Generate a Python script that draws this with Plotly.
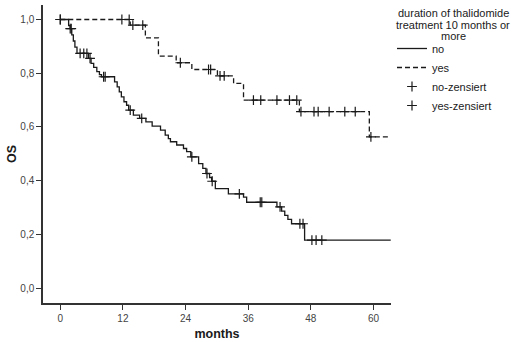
import numpy as np
import plotly.graph_objects as go

# ---- data ----
# group "no": event times (months) and survival after each event
no_t = [1.6, 1.9, 2.2, 2.5, 2.8, 3.2, 5.4, 5.9, 6.4, 7.0, 7.5, 7.9,
        10.4, 10.9, 11.3, 11.7, 12.2, 12.7, 13.1, 14.0, 15.2, 16.4, 17.6,
        19.2, 20.1, 20.7, 21.1, 22.3, 23.6, 24.2, 25.0, 26.5, 27.3, 27.9,
        28.6, 29.0, 29.7, 32.2, 35.1, 35.7, 41.5, 42.4, 43.0, 43.6, 44.3, 46.8]
no_s = [0.977, 0.966, 0.943, 0.920, 0.897, 0.874, 0.855, 0.837, 0.822, 0.806, 0.795, 0.787,
        0.768, 0.749, 0.731, 0.712, 0.694, 0.681, 0.663, 0.644, 0.632, 0.619, 0.603,
        0.588, 0.570, 0.557, 0.545, 0.533, 0.520, 0.508, 0.489, 0.464, 0.446, 0.427,
        0.412, 0.398, 0.371, 0.351, 0.339, 0.320, 0.303, 0.287, 0.271, 0.256, 0.240, 0.179]
no_cens = [0.0, 1.9, 2.1, 3.8, 4.5, 5.1, 5.7, 8.3, 8.6, 13.4, 15.6, 25.2, 28.1, 29.1,
           34.3, 38.3, 38.6, 42.1, 45.9, 46.5, 48.2, 49.0, 50.1]
no_end = 63.3

# group "yes"
yes_t = [13.4, 16.3, 18.8, 22.2, 25.2, 30.1, 33.2, 35.1, 45.8, 59.2]
yes_s = [0.979, 0.932, 0.864, 0.839, 0.814, 0.790, 0.762, 0.700, 0.657, 0.563]
yes_cens = [0.0, 11.8, 13.2, 13.9, 15.8, 23.0, 28.4, 28.8, 30.6, 31.4, 37.0, 38.4,
            41.5, 43.9, 45.3, 46.1, 48.6, 49.4, 51.5, 54.5, 56.5, 59.5]
yes_end = 63.3

x_ticks = [0, 12, 24, 36, 48, 60]
y_ticks = [0.0, 0.2, 0.4, 0.6, 0.8, 1.0]
legend_title_lines = ["duration of thalidomide", "treatment 10 months or", "more"]
names = ["no", "yes", "no-zensiert", "yes-zensiert"]


def step_xy(t, s, end):
    x = [0.0] + list(t) + [end]
    y = [1.0] + list(s) + [s[-1]]
    return x, y


def surv_at(t, s, c):
    t = np.asarray(t)
    s = np.asarray([1.0] + list(s))
    idx = np.searchsorted(t, np.asarray(c), side="right")
    return s[idx]


FONT = "Liberation Sans, Arial, sans-serif"
INK = "#1a1a1a"
W, H = 520, 342
ML, MR, MT, MB = 43, 129, 5, 39
PW, PH = W - ML - MR, H - MT - MB

fig = go.Figure()
nx, ny = step_xy(no_t, no_s, no_end)
yx, yy = step_xy(yes_t, yes_s, yes_end)

fig.add_trace(go.Scatter(x=nx, y=ny, mode="lines", line_shape="hv", name=names[0],
                         line=dict(color=INK, width=1.3)))
fig.add_trace(go.Scatter(x=yx, y=yy, mode="lines", line_shape="hv", name=names[1],
                         line=dict(color=INK, width=1.3, dash="5px,3px")))
fig.add_trace(go.Scatter(x=no_cens, y=surv_at(no_t, no_s, no_cens), mode="markers",
                         name=names[2],
                         marker=dict(symbol="cross-thin", size=7, line=dict(color=INK, width=1.2))))
fig.add_trace(go.Scatter(x=yes_cens, y=surv_at(yes_t, yes_s, yes_cens), mode="markers",
                         name=names[3],
                         marker=dict(symbol="cross-thin", size=7, line=dict(color=INK, width=1.2))))

# legend title: three centred lines
title_cx = 453
for line, ypx in zip(legend_title_lines, [13, 25, 36]):
    fig.add_annotation(text=line, xref="paper", yref="paper",
                       x=(title_cx - ML) / PW, y=1 - (ypx - MT) / PH,
                       xanchor="center", yanchor="middle", showarrow=False,
                       font=dict(family=FONT, size=11, color=INK))

fig.update_layout(
    width=W, height=H,
    margin=dict(l=ML, r=MR, t=MT, b=MB, autoexpand=False),
    paper_bgcolor="white", plot_bgcolor="white",
    separators=",.",
    hovermode=False,
    font=dict(family=FONT, color=INK),
    showlegend=True,
    legend=dict(x=(392 - ML) / PW, y=1 - (34 - MT) / PH, xanchor="left", yanchor="top",
                font=dict(family=FONT, size=11, color=INK),
                itemwidth=30, tracegroupgap=0, bgcolor="rgba(0,0,0,0)"),
    xaxis=dict(range=[-3.31, 63.35], tickvals=x_ticks, ticks="outside", ticklen=5,
               tickcolor="#333", showline=True, linecolor="#333", linewidth=1.5,
               showgrid=False, zeroline=False,
               tickfont=dict(family=FONT, size=10, color="#444"),
               title=dict(text="<b>months</b>", font=dict(family=FONT, size=12.5, color=INK),
                          standoff=6)),
    yaxis=dict(range=[-0.055, 1.054], tickvals=y_ticks, tickformat=".1f", ticks="outside",
               ticklen=5, tickcolor="#333", showline=True, linecolor="#333", linewidth=1.5,
               showgrid=False, zeroline=False,
               tickfont=dict(family=FONT, size=10, color="#444"),
               title=dict(text="<b>OS</b>", font=dict(family=FONT, size=12.5, color=INK),
                          standoff=1)),
)

fig.write_html("out.html", config={"displayModeBar": False},
               post_script="document.body.style.margin='0';document.body.style.overflow='hidden';")
